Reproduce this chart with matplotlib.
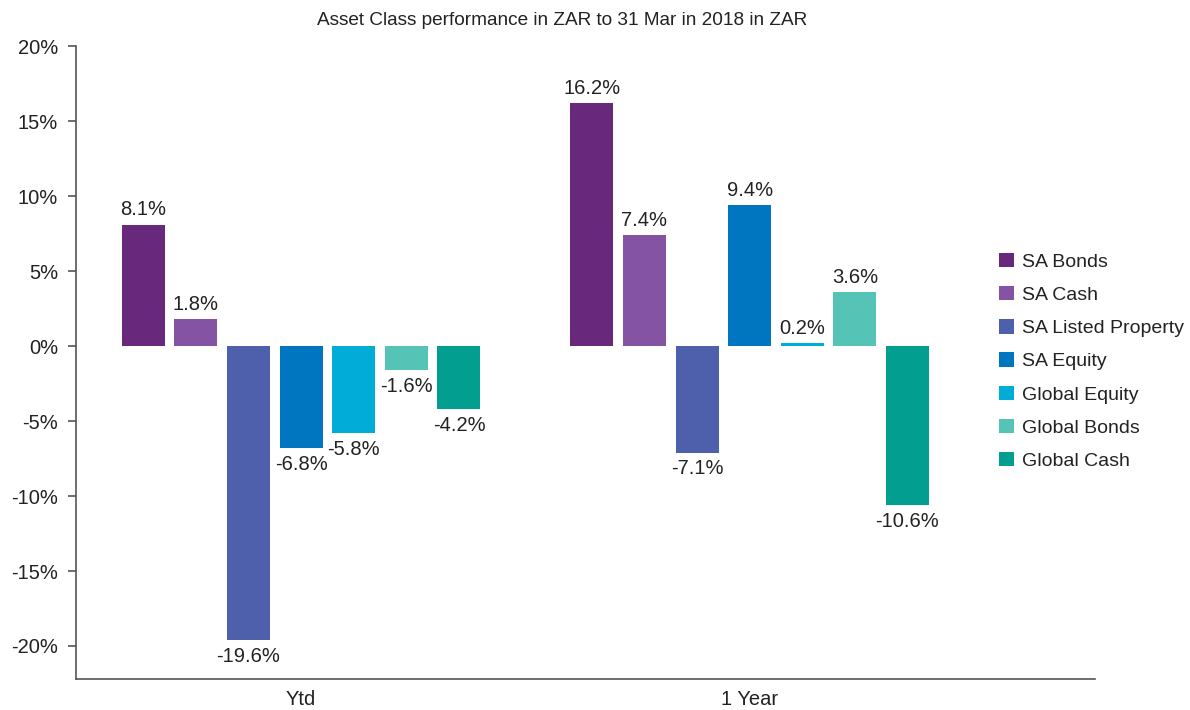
import matplotlib
matplotlib.use("Agg")
import matplotlib.pyplot as plt
import matplotlib.ticker as mticker
import numpy as np

plt.rcParams["font.family"] = ["Liberation Sans", "DejaVu Sans"]

periods = ["Ytd", "1 Year"]
asset_classes = [
    "SA Bonds", "SA Cash", "SA Listed Property", "SA Equity",
    "Global Equity", "Global Bonds", "Global Cash",
]
ytd = [8.1, 1.8, -19.6, -6.8, -5.8, -1.6, -4.2]
one_year = [16.2, 7.4, -7.1, 9.4, 0.2, 3.6, -10.6]
colors = ["#68297c", "#8553a3", "#4e5fab", "#0176c0", "#02acd9", "#55c3b5", "#029f91"]

text_col = "#222222"
axis_col = "#555555"
fs = 14.5

fig = plt.figure(figsize=(11.9, 7.1), dpi=100)
ax = fig.add_axes([0.0639, 0.0437, 0.9201 - 0.0639, 0.935 - 0.0437])

x = np.arange(len(periods))
width = 0.0959
step = 0.1173
values = np.array([ytd, one_year]).T  # rows = asset class

for i, (name, col) in enumerate(zip(asset_classes, colors)):
    pos = x + (i - 3) * step
    bars = ax.bar(pos, values[i], width=width, color=col, label=name)
    for b, v in zip(bars, values[i]):
        ax.annotate(f"{v:.1f}%", (b.get_x() + b.get_width() / 2, v),
                    xytext=(0, 4 if v >= 0 else -5), textcoords="offset points",
                    ha="center", va="bottom" if v >= 0 else "top",
                    fontsize=fs, color=text_col)

ax.set_xlim(-0.502, 1.770)
ax.set_ylim(-22.2, 20)
ax.set_yticks(np.arange(-20, 21, 5))
ax.yaxis.set_major_formatter(mticker.FuncFormatter(lambda v, _: f"{v:.0f}%"))
ax.set_xticks(x)
ax.set_xticklabels(periods)

for s in ["top", "right"]:
    ax.spines[s].set_visible(False)
for s in ["left", "bottom"]:
    ax.spines[s].set_color(axis_col)
    ax.spines[s].set_linewidth(1.2)

ax.tick_params(axis="y", direction="out", length=6, width=1.2, color=axis_col,
               labelsize=fs, labelcolor=text_col, pad=7)
ax.tick_params(axis="x", length=0, labelsize=fs, labelcolor=text_col, pad=8)

fig.text(0.472, 0.971, "Asset Class performance in ZAR to 31 Mar in 2018 in ZAR",
         ha="center", va="center", fontsize=13.7, color=text_col)

fig.legend(loc="upper left", bbox_to_anchor=(0.8395, 0.644), frameon=False,
           fontsize=14, handlelength=0.77, handleheight=0.77,
           handletextpad=0.41, labelspacing=0.78, borderpad=0, borderaxespad=0,
           labelcolor=text_col)

fig.savefig("out.png", dpi=100)
